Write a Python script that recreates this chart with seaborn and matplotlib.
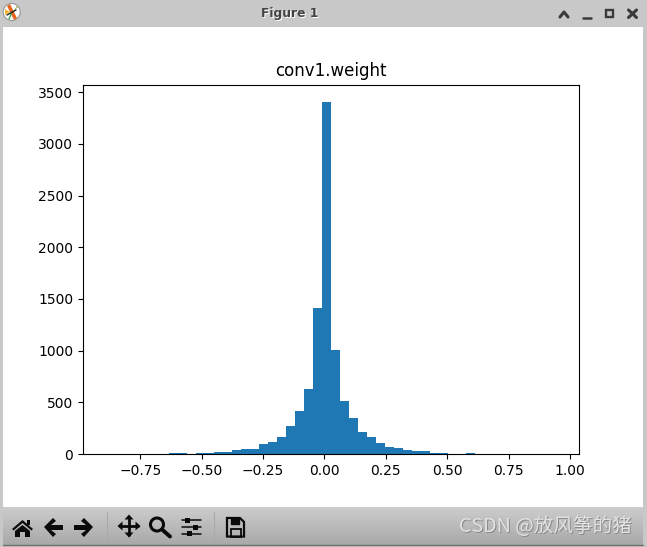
import numpy as np
import matplotlib
matplotlib.use("Agg")
import matplotlib.pyplot as plt
import seaborn as sns
from matplotlib.patches import Polygon, Circle, Rectangle

# bin counts, 50 equal bins
x_min = -0.892
x_max = 0.945
counts = [0, 0, 0, 0, 0, 0, 0, 6, 6, 0,
          8, 8, 19, 19, 39, 48, 48, 97, 116, 165,
          272, 417, 630, 1416, 3410, 1009, 514, 349, 213, 165,
          107, 68, 58, 39, 29, 29, 8, 8, 0, 0,
          6, 0, 0, 0, 0, 0, 0, 0, 0, 0]
y_ticks = [0, 500, 1000, 1500, 2000, 2500, 3000, 3500]
x_ticks = [-0.75, -0.50, -0.25, 0.00, 0.25, 0.50, 0.75, 1.00]
title = 'conv1.weight'
window_title = 'Figure 1'
watermark = 'CSDN @放风筝的猪'

W, H = 647, 547
sns.set_style('white')
plt.rcParams['font.family'] = ['DejaVu Sans']
plt.rcParams['xtick.bottom'] = True
plt.rcParams['ytick.left'] = True
plt.rcParams['axes.edgecolor'] = 'black'
plt.rcParams['xtick.color'] = 'black'
plt.rcParams['ytick.color'] = 'black'
plt.rcParams['axes.titlecolor'] = 'black'
plt.rcParams['axes.titlesize'] = 12
plt.rcParams['font.size'] = 10
plt.rcParams['axes.linewidth'] = 0.8
plt.rcParams['xtick.major.size'] = 3.5
plt.rcParams['ytick.major.size'] = 3.5
plt.rcParams['xtick.major.width'] = 0.8
plt.rcParams['ytick.major.width'] = 0.8
plt.rcParams['xtick.labelsize'] = 10
plt.rcParams['ytick.labelsize'] = 10

fig = plt.figure(figsize=(W / 100, H / 100), dpi=100, facecolor='#c8c8c8')

# window chrome, pixel coordinates
bg = fig.add_axes([0, 0, 1, 1], zorder=0)
bg.set_xlim(0, W)
bg.set_ylim(H, 0)
bg.axis('off')
bg.add_patch(Rectangle((3, 27), 640, 480, color='white', lw=0))
grad = np.linspace(0.80, 0.66, 64).reshape(-1, 1)
bg.imshow(grad, extent=(3, 643, 545, 507), cmap='gray', vmin=0, vmax=1, aspect='auto', zorder=1)
bg.set_xlim(0, W)
bg.set_ylim(H, 0)
bg.plot([3, 643], [545, 545], color='#707070', lw=1, zorder=2)
for sx in (107, 213.5):
    bg.plot([sx, sx], [512, 540], color='#aaaaaa', lw=0.8, zorder=2)

bg.text(290.5, 14.5, window_title, ha='center', va='center', fontsize=8.8, fontweight='bold', color='white', zorder=2)
bg.text(290, 14, window_title, ha='center', va='center', fontsize=8.8, fontweight='bold', color='#444444', zorder=3)

# title bar logo
bg.add_patch(Circle((11.7, 12), 8.5, fc='white', ec='#999999', lw=0.8, zorder=2))
bg.add_patch(Polygon([(7, 6), (10, 4), (17, 18), (14, 20)], color='#e8641e', lw=0, zorder=3))
bg.add_patch(Polygon([(5, 9), (10, 12), (5, 15)], color='#f2b632', lw=0, zorder=3))
bg.add_patch(Polygon([(12, 13), (17, 6), (18, 7)], color='#8ab33c', lw=0, zorder=3))
bg.plot([12, 9], [12, 19], color='#3aa655', lw=1, zorder=3)
bg.plot([7, 16], [15, 10], color='#222222', lw=1, zorder=4)

# title bar buttons
btn = '#3a3a3a'
bg.plot([560, 564, 568], [17, 12, 17], color=btn, lw=2.2, zorder=3)
bg.plot([582.5, 591], [17.5, 17.5], color=btn, lw=1.8, zorder=3)
bg.add_patch(Rectangle((606, 10), 7, 7, fc='none', ec=btn, lw=1.7, zorder=3))
bg.plot([628.5, 636.5], [10, 17.5], color=btn, lw=2.2, zorder=3)
bg.plot([628.5, 636.5], [17.5, 10], color=btn, lw=2.2, zorder=3)

# toolbar icons
ic = '#0a0a0a'
bg.add_patch(Polygon([(12, 529), (22.5, 520), (33, 529), (31.5, 530.5), (22.5, 523), (13.5, 530.5)], color=ic, lw=0, zorder=3))
bg.add_patch(Polygon([(15, 531), (22.5, 525), (30, 531), (30, 537), (25, 537), (25, 532), (20, 532), (20, 537), (15, 537)], color=ic, lw=0, zorder=3))
bg.add_patch(Rectangle((27, 520), 3, 5, color=ic, lw=0, zorder=3))
bg.add_patch(Polygon([(44, 527), (53, 518), (56, 521), (51, 525), (63, 525), (63, 530), (51, 530), (56, 534), (53, 537)], color=ic, lw=0, zorder=3))
bg.add_patch(Polygon([(93, 527), (84, 518), (81, 521), (86, 525), (74, 525), (74, 530), (86, 530), (81, 534), (84, 537)], color=ic, lw=0, zorder=3))
bg.plot([120, 138], [526, 526], color=ic, lw=2, zorder=3)
bg.plot([129, 129], [517, 535], color=ic, lw=2, zorder=3)
for pts in ([(129, 514.5), (124.5, 519.5), (133.5, 519.5)], [(129, 537.5), (124.5, 532.5), (133.5, 532.5)],
            [(117.5, 526), (122.5, 521.5), (122.5, 530.5)], [(140.5, 526), (135.5, 521.5), (135.5, 530.5)]):
    bg.add_patch(Polygon(pts, color=ic, lw=0, zorder=3))
bg.add_patch(Circle((157, 524.5), 6.5, fc='none', ec=ic, lw=2.2, zorder=3))
bg.plot([162, 170], [529.5, 536.5], color=ic, lw=2.8, zorder=3)
for ly, kx in ((520, 187), (527, 195), (533.5, 189)):
    bg.plot([182, 201], [ly, ly], color=ic, lw=1.1, zorder=3)
    bg.add_patch(Rectangle((kx - 2.5, ly - 2.5), 5, 5, color=ic, lw=0, zorder=3))
bg.add_patch(Polygon([(227, 518), (240, 518), (244, 522), (244, 536.5), (227, 536.5)], fc='none', ec=ic, lw=1.6, zorder=3))
bg.add_patch(Rectangle((231, 518), 8, 6, fc=ic, ec=ic, lw=1, zorder=3))
bg.add_patch(Rectangle((230.5, 529), 10, 7.5, fc='none', ec=ic, lw=1.3, zorder=3))

# watermark
wm_font = ['Noto Sans CJK SC', 'DejaVu Sans']
bg.text(632.6, 527.6, watermark, ha='right', va='center', fontsize=14.1, family=wm_font, color='#8a8a8a', zorder=3)
bg.text(632, 527, watermark, ha='right', va='center', fontsize=14.1, family=wm_font, color='#e2e2e2', zorder=4)

# the histogram
ax = fig.add_axes([83 / W, 1 - 454 / H, 496 / W, 369 / H], zorder=1, facecolor='white')
edges = np.linspace(x_min, x_max, len(counts) + 1)
centers = (edges[:-1] + edges[1:]) / 2
sns.histplot(x=centers, weights=counts, bins=len(counts), binrange=(x_min, x_max),
             color='#1f77b4', alpha=1, linewidth=0, ax=ax)
ax.set_xlim(-0.984, 1.037)
ax.set_ylim(0, 3570)
ax.set_xticks(x_ticks)
ax.set_xticklabels(['\u2212%.2f' % abs(v) if v < 0 else '%.2f' % v for v in x_ticks])
ax.set_yticks(y_ticks)
ax.set_xlabel('')
ax.set_ylabel('')
ax.set_title(title, pad=6.7)
fig.savefig('out.png', dpi=100, facecolor=fig.get_facecolor())
